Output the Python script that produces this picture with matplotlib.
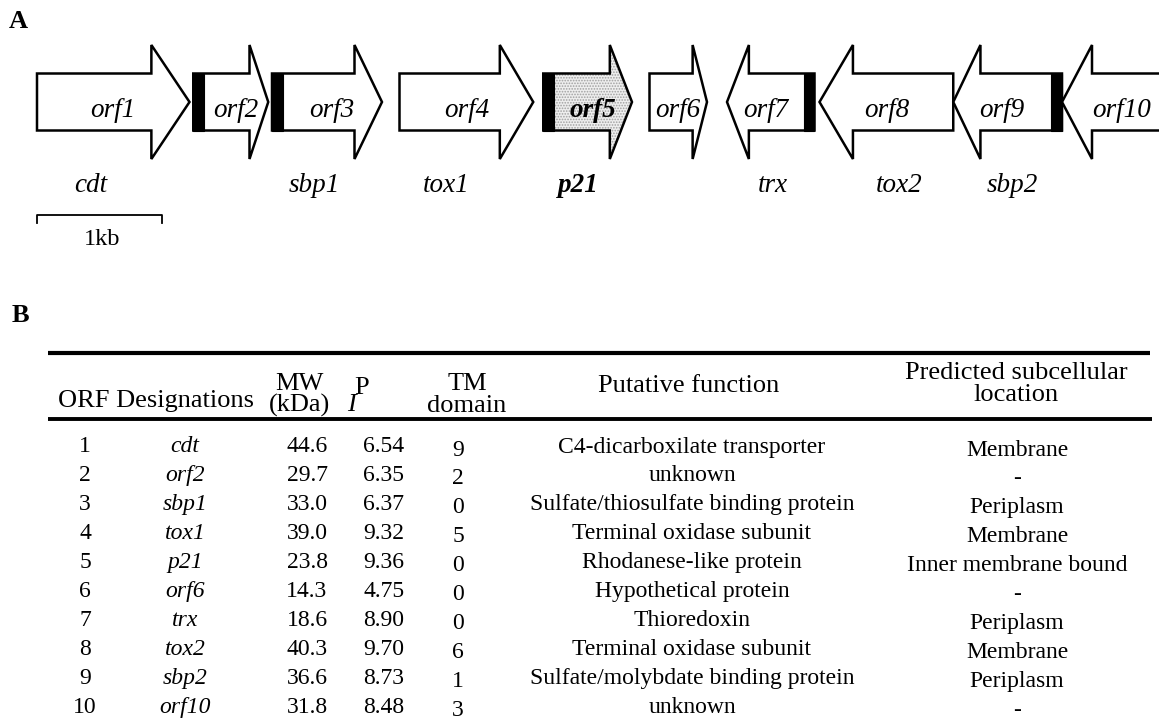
import matplotlib
matplotlib.use("Agg")
import matplotlib.pyplot as plt
from matplotlib.patches import Polygon, Rectangle

plt.rcParams['font.family'] = ['Liberation Serif', 'DejaVu Serif']
plt.rcParams['hatch.linewidth'] = 0.8

# ---- panel A: gene map (positions in kb) ----
orf_names = ["orf1", "orf2", "orf3", "orf4", "orf5", "orf6", "orf7", "orf8", "orf9", "orf10"]
gene_start = [0.00, 1.25, 1.88, 2.90, 4.05, 4.90, 5.52, 6.26, 7.33, 8.20]
gene_end = [1.22, 1.85, 2.76, 3.97, 4.76, 5.36, 6.22, 7.33, 8.20, 9.16]
strand = [1, 1, 1, 1, 1, 1, -1, -1, -1, -1]
has_box = [False, True, True, False, True, False, True, False, True, False]
gene_names = ["cdt", "", "sbp1", "tox1", "p21", "", "trx", "tox2", "sbp2", ""]
highlight = "orf5"

# ---- panel B: table ----
orf_ids = ["1", "2", "3", "4", "5", "6", "7", "8", "9", "10"]
designations = ["cdt", "orf2", "sbp1", "tox1", "p21", "orf6", "trx", "tox2", "sbp2", "orf10"]
mw = ["44.6", "29.7", "33.0", "39.0", "23.8", "14.3", "18.6", "40.3", "36.6", "31.8"]
pi = ["6.54", "6.35", "6.37", "9.32", "9.36", "4.75", "8.90", "9.70", "8.73", "8.48"]
tm = ["9", "2", "0", "5", "0", "0", "0", "6", "1", "3"]
functions = ["C4-dicarboxilate transporter", "unknown", "Sulfate/thiosulfate binding protein",
             "Terminal oxidase subunit", "Rhodanese-like protein", "Hypothetical protein",
             "Thioredoxin", "Terminal oxidase subunit", "Sulfate/molybdate binding protein",
             "unknown"]
locations = ["Membrane", "-", "Periplasm", "Membrane", "Inner membrane bound", "-",
             "Periplasm", "Membrane", "Periplasm", "-"]

W, H = 1159, 722
fig = plt.figure(figsize=(W / 100, H / 100), dpi=100)

# gene map axes: x in kb, y in pixels
px_per_kb = 125.0
x0 = 37.0
axA = fig.add_axes([0, 0, 1, 1])
axA.set_xlim(-x0 / px_per_kb, (W - x0) / px_per_kb)
axA.set_ylim(H, 0)
axA.axis("off")

yc = 102
body_h = 28.5
head_h = 57
box_w = 0.085
lw = 1.8

for i, name in enumerate(orf_names):
    s, e = gene_start[i], gene_end[i]
    L = e - s
    hl = 0.25 * L
    if strand[i] > 0:
        hb = e - hl
        pts = [(s, yc - body_h), (hb, yc - body_h), (hb, yc - head_h), (e, yc),
               (hb, yc + head_h), (hb, yc + body_h), (s, yc + body_h)]
        box_x = s
        lab_lo = s + (box_w if has_box[i] else 0)
        lab_hi = e
        body_lo, body_hi = lab_lo, hb
    else:
        hb = s + hl
        pts = [(e, yc - body_h), (hb, yc - body_h), (hb, yc - head_h), (s, yc),
               (hb, yc + head_h), (hb, yc + body_h), (e, yc + body_h)]
        box_x = e - box_w
        lab_lo = s
        lab_hi = e - (box_w if has_box[i] else 0)
        body_lo, body_hi = hb, lab_hi
    if name == highlight:
        axA.add_patch(Polygon(pts, closed=True, facecolor="#eeeeee", edgecolor="#a0a0a0",
                              hatch="......", linewidth=0, zorder=1))
        axA.add_patch(Polygon(pts, closed=True, fill=False, edgecolor="black",
                              linewidth=lw, joinstyle="miter", zorder=2))
    else:
        axA.add_patch(Polygon(pts, closed=True, facecolor="white", edgecolor="black",
                              linewidth=lw, joinstyle="miter", zorder=2))
    if has_box[i]:
        axA.add_patch(Rectangle((box_x, yc - body_h), box_w, 2 * body_h,
                                facecolor="black", edgecolor="black", linewidth=0.8, zorder=3))
    bold = "bold" if name == highlight else "normal"
    axA.text((lab_lo + lab_hi) / 2, 117, name, ha="center", va="baseline",
             fontsize=19.5, style="italic", weight=bold, zorder=4)
    if gene_names[i]:
        axA.text((body_lo + body_hi) / 2 - 0.03, 192, gene_names[i], ha="center",
                 va="baseline", fontsize=19.5, style="italic", weight=bold)

# scale bar 1 kb
axA.plot([0, 0, 1, 1], [223, 215, 215, 223], color="black", linewidth=1.3)
axA.text(0.52, 245, "1kb", ha="center", va="baseline", fontsize=17.5)

axA.text(-0.15, 28, "A", ha="center", va="baseline", fontsize=19, weight="bold")

# table axes in pixels
axB = fig.add_axes([0, 0, 1, 1])
axB.set_xlim(0, W)
axB.set_ylim(H, 0)
axB.axis("off")
axB.patch.set_alpha(0)

axB.text(20, 322, "B", ha="center", va="baseline", fontsize=19, weight="bold")

axB.hlines(353, 48, 1150, color="black", linewidth=3.0)
axB.hlines(419, 48, 1152, color="black", linewidth=2.8)

hfs = 19
axB.text(58, 407, "ORF Designations", ha="left", va="baseline", fontsize=hfs)
axB.text(299, 395, "MW\n(kDa)", ha="center", va="center", fontsize=hfs, linespacing=0.95)
axB.text(351, 411, "I", ha="center", va="baseline", fontsize=hfs, style="italic")
axB.text(362, 394, "P", ha="center", va="baseline", fontsize=hfs)
axB.text(467, 395, "TM\ndomain", ha="center", va="center", fontsize=hfs, linespacing=0.95)
axB.text(689, 392, "Putative function", ha="center", va="baseline", fontsize=hfs)
axB.text(1016, 384, "Predicted subcellular\nlocation", ha="center", va="center",
         fontsize=hfs, linespacing=0.95)

fs = 17
row0 = 447
row_step = 28.9
for r in range(len(orf_ids)):
    y = row0 + r * row_step
    axB.text(85, y, orf_ids[r], ha="center", va="center", fontsize=fs)
    axB.text(185, y, designations[r], ha="center", va="center", fontsize=fs, style="italic")
    axB.text(307, y, mw[r], ha="center", va="center", fontsize=fs)
    axB.text(384, y, pi[r], ha="center", va="center", fontsize=fs)
    axB.text(458, y + 3, tm[r], ha="center", va="center", fontsize=fs)
    axB.text(692, y, functions[r], ha="center", va="center", fontsize=fs)
    axB.text(1017, y + 3, locations[r], ha="center", va="center", fontsize=fs)

fig.savefig("out.png", dpi=100, facecolor="white")
